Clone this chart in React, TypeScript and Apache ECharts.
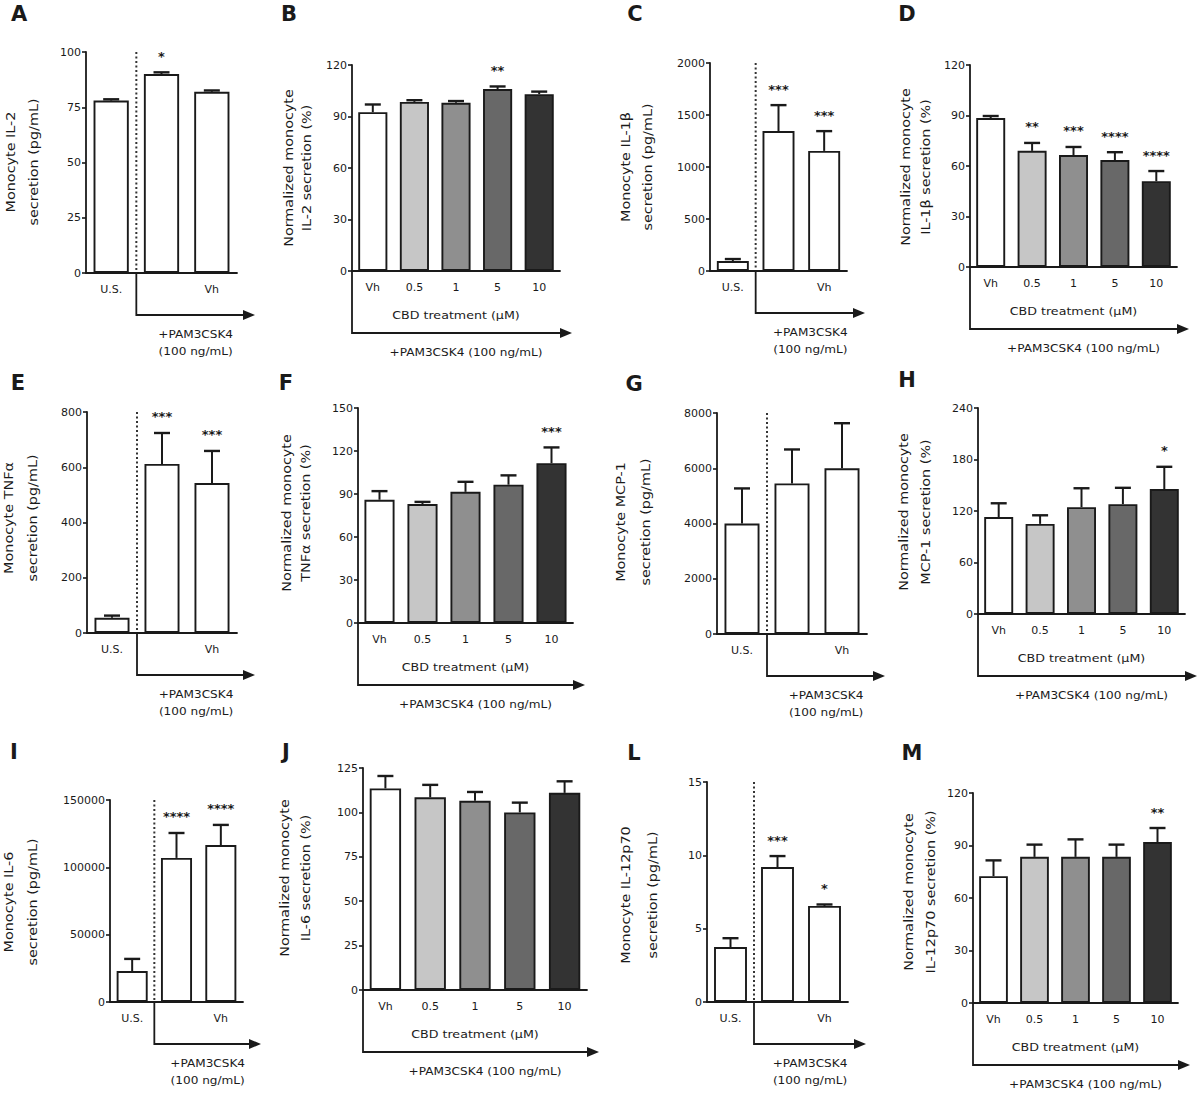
import React, { useEffect, useRef } from "react";
import * as echarts from "echarts";

// ---------- categories ----------
const usCategories = ["U.S.", "", "Vh"];
const cbdCategories = ["Vh", "0.5", "1", "5", "10"];

// ---------- series values (mean, SEM, significance) ----------
const il2Values = [78, 90, 82];
const il2Errors = [0.6, 0.8, 0.6];
const il2Stars = ["", "*", ""];

const il2NormValues = [92.5, 98.5, 98, 106, 103];
const il2NormErrors = [4.5, 1, 1, 1.5, 1.5];
const il2NormStars = ["", "", "", "**", ""];

const il1bValues = [95, 1345, 1155];
const il1bErrors = [20, 250, 190];
const il1bStars = ["", "***", "***"];

const il1bNormValues = [88.5, 69, 66.5, 63.5, 51];
const il1bNormErrors = [1.2, 4.7, 4.8, 4.7, 6];
const il1bNormStars = ["", "**", "***", "****", "****"];

const tnfValues = [55, 612, 543];
const tnfErrors = [8, 112, 116];
const tnfStars = ["", "***", "***"];

const tnfNormValues = [86, 83, 91.5, 96.5, 111.5];
const tnfNormErrors = [6, 1.5, 7, 6.5, 11];
const tnfNormStars = ["", "", "", "", "***"];

const mcpValues = [4000, 5450, 6000];
const mcpErrors = [1270, 1230, 1630];
const mcpStars = ["", "", ""];

const mcpNormValues = [113, 105, 124.5, 128, 145.5];
const mcpNormErrors = [16, 10, 22, 19, 26];
const mcpNormStars = ["", "", "", "", "*"];

const il6Values = [23000, 107000, 116500];
const il6Errors = [9000, 18500, 15000];
const il6Stars = ["", "****", "****"];

const il6NormValues = [113.5, 108.5, 106.5, 100, 111];
const il6NormErrors = [7, 7, 5, 5.5, 6.5];
const il6NormStars = ["", "", "", "", ""];

const il12Values = [3.75, 9.2, 6.55];
const il12Errors = [0.6, 0.75, 0.1];
const il12Stars = ["", "***", "*"];

const il12NormValues = [72.5, 83.5, 83.5, 83.5, 92];
const il12NormErrors = [9, 7, 10, 7, 8];
const il12NormStars = ["", "", "", "", "**"];

// ---------- y-axis tick ranges (max, step) ----------
const il2Ticks = [100, 25];
const il2NormTicks = [120, 30];
const il1bTicks = [2000, 500];
const il1bNormTicks = [120, 30];
const tnfTicks = [800, 200];
const tnfNormTicks = [150, 30];
const mcpTicks = [8000, 2000];
const mcpNormTicks = [240, 60];
const il6Ticks = [150000, 50000];
const il6NormTicks = [125, 25];
const il12Ticks = [15, 5];
const il12NormTicks = [120, 30];

// ---------- styles ----------
const usColors = ["#ffffff", "#ffffff", "#ffffff"];
const cbdColors = ["#ffffff", "#c6c6c6", "#8f8f8f", "#686868", "#333333"];
const FONT = "DejaVu Sans";
const INK = "#1a1a1a";

type Panel = {
  letter: string;
  letterPos: [number, number];
  kind: "us" | "cbd";
  box: [number, number, number, number]; // left, top, width, height
  ticks: number[];
  values: number[];
  errors: number[];
  stars: string[];
  title: [string, string];
  titlePos: [number, number, number];
};

const panels: Panel[] = [
  { letter: "A", letterPos: [19, 14], kind: "us", box: [86, 52, 151, 221], ticks: il2Ticks, values: il2Values, errors: il2Errors, stars: il2Stars, title: ["Monocyte IL-2", "secretion (pg/mL)"], titlePos: [10, 33, 162] },
  { letter: "B", letterPos: [289, 14], kind: "cbd", box: [352, 65, 208, 206], ticks: il2NormTicks, values: il2NormValues, errors: il2NormErrors, stars: il2NormStars, title: ["Normalized monocyte", "IL-2 secretion (%)"], titlePos: [288, 306, 168] },
  { letter: "C", letterPos: [635, 14], kind: "us", box: [710, 63, 137, 208], ticks: il1bTicks, values: il1bValues, errors: il1bErrors, stars: il1bStars, title: ["Monocyte IL-1β", "secretion (pg/mL)"], titlePos: [625, 647, 167] },
  { letter: "D", letterPos: [907, 14], kind: "cbd", box: [970, 65, 207, 202], ticks: il1bNormTicks, values: il1bNormValues, errors: il1bNormErrors, stars: il1bNormStars, title: ["Normalized monocyte", "IL-1β secretion (%)"], titlePos: [905, 925, 167] },
  { letter: "E", letterPos: [18, 383], kind: "us", box: [87, 412, 150, 221], ticks: tnfTicks, values: tnfValues, errors: tnfErrors, stars: tnfStars, title: ["Monocyte TNFα", "secretion (pg/mL)"], titlePos: [8, 32, 518] },
  { letter: "F", letterPos: [286, 383], kind: "cbd", box: [358, 408, 215, 215], ticks: tnfNormTicks, values: tnfNormValues, errors: tnfNormErrors, stars: tnfNormStars, title: ["Normalized monocyte", "TNFα secretion (%)"], titlePos: [286, 305, 513] },
  { letter: "G", letterPos: [634, 384], kind: "us", box: [717, 413, 150, 221], ticks: mcpTicks, values: mcpValues, errors: mcpErrors, stars: mcpStars, title: ["Monocyte MCP-1", "secretion (pg/mL)"], titlePos: [620, 645, 522] },
  { letter: "H", letterPos: [907, 380], kind: "cbd", box: [978, 408, 207, 206], ticks: mcpNormTicks, values: mcpNormValues, errors: mcpNormErrors, stars: mcpNormStars, title: ["Normalized monocyte", "MCP-1 secretion (%)"], titlePos: [903, 925, 512] },
  { letter: "I", letterPos: [14, 752], kind: "us", box: [110, 800, 133, 202], ticks: il6Ticks, values: il6Values, errors: il6Errors, stars: il6Stars, title: ["Monocyte IL-6", "secretion (pg/mL)"], titlePos: [8, 32, 902] },
  { letter: "J", letterPos: [286, 752], kind: "cbd", box: [363, 768, 224, 222], ticks: il6NormTicks, values: il6NormValues, errors: il6NormErrors, stars: il6NormStars, title: ["Normalized monocyte", "IL-6 secretion (%)"], titlePos: [284, 305, 878] },
  { letter: "L", letterPos: [634, 753], kind: "us", box: [707, 782, 141, 220], ticks: il12Ticks, values: il12Values, errors: il12Errors, stars: il12Stars, title: ["Monocyte IL-12p70", "secretion (pg/mL)"], titlePos: [625, 652, 895] },
  { letter: "M", letterPos: [912, 753], kind: "cbd", box: [973, 793, 205, 210], ticks: il12NormTicks, values: il12NormValues, errors: il12NormErrors, stars: il12NormStars, title: ["Normalized monocyte", "IL-12p70 secretion (%)"], titlePos: [908, 930, 892] },
];

function txt(text: string, x: number, y: number, size: number, opts: any = {}) {
  return {
    type: "text",
    x,
    y,
    rotation: opts.rotation || 0,
    scaleX: opts.scaleX || 1,
    silent: true,
    style: {
      text,
      x: 0,
      y: 0,
      fill: INK,
      font: `${opts.weight || "normal"} ${size}px "${FONT}"`,
      align: opts.align || "center",
      verticalAlign: opts.vAlign || "middle",
      textAlign: opts.align || "center",
      textVerticalAlign: opts.vAlign || "middle",
    },
  };
}

function buildOption() {
  const grid: any[] = [];
  const xAxis: any[] = [];
  const yAxis: any[] = [];
  const series: any[] = [];
  const graphic: any[] = [];

  panels.forEach((p, i) => {
    const [left, top, width, height] = p.box;
    const bottom = top + height;
    const us = p.kind === "us";
    const cats = us ? usCategories : cbdCategories;
    const colors = us ? usColors : cbdColors;

    grid.push({ left, top, width, height });
    xAxis.push({
      type: "category",
      gridIndex: i,
      data: cats,
      axisLine: { lineStyle: { color: INK, width: 1.8 } },
      axisTick: { alignWithLabel: true, length: 4, lineStyle: { color: INK, width: 1.6 } },
      axisLabel: { color: INK, fontSize: 11, fontFamily: FONT, margin: 11, interval: 0 },
      splitLine: { show: false },
    });
    yAxis.push({
      type: "value",
      gridIndex: i,
      min: 0,
      max: p.ticks[0],
      interval: p.ticks[1],
      axisLine: { show: true, lineStyle: { color: INK, width: 1.8 } },
      axisTick: { show: true, length: 4, lineStyle: { color: INK, width: 1.6 } },
      axisLabel: { color: INK, fontSize: 11, fontFamily: FONT, margin: 5, formatter: (v: number) => String(v) },
      splitLine: { show: false },
    });
    series.push({
      type: "bar",
      xAxisIndex: i,
      yAxisIndex: i,
      barWidth: "70%",
      data: p.values.map((v, k) => ({ value: v, itemStyle: { color: colors[k] } })),
      itemStyle: { borderColor: INK, borderWidth: 1.9 },
      z: 2,
    });
    const stars = p.stars;
    series.push({
      type: "custom",
      xAxisIndex: i,
      yAxisIndex: i,
      z: 3,
      data: p.values.map((v, k) => [k, v, p.errors[k]]),
      encode: { x: 0, y: 1 },
      renderItem: (params: any, api: any) => {
        const k = api.value(0);
        const v = api.value(1);
        const e = api.value(2);
        const a = api.coord([k, v]);
        const b = api.coord([k, v + e]);
        const cap = 8;
        const children: any[] = [
          { type: "line", shape: { x1: a[0], y1: a[1], x2: b[0], y2: b[1] }, style: { stroke: INK, lineWidth: 2 } },
          { type: "line", shape: { x1: b[0] - cap, y1: b[1], x2: b[0] + cap, y2: b[1] }, style: { stroke: INK, lineWidth: 2.4 } },
        ];
        const s = stars[params.dataIndex];
        if (s) {
          children.push({
            type: "text",
            style: { text: s, x: b[0], y: b[1] - 16, fill: INK, font: `bold 13px "${FONT}"`, align: "center", verticalAlign: "middle" },
          });
        }
        return { type: "group", children };
      },
    });

    // panel letter
    graphic.push(txt(p.letter, p.letterPos[0], p.letterPos[1], 21, { weight: "bold" }));
    // y-axis title (two lines, rotated)
    graphic.push(txt(p.title[0], p.titlePos[0], p.titlePos[2], 12.5, { rotation: Math.PI / 2, scaleX: 1.15 }));
    graphic.push(txt(p.title[1], p.titlePos[1], p.titlePos[2], 12.5, { rotation: Math.PI / 2, scaleX: 1.15 }));

    const vx = us ? left + width / 3 : left;
    const ay = bottom + (us ? 42 : 62);
    const ex = left + width + (us ? 18 : 12);
    if (us) {
      graphic.push({
        type: "line",
        silent: true,
        shape: { x1: vx, y1: top, x2: vx, y2: bottom },
        style: { stroke: "#333", lineWidth: 2, lineDash: [2, 2.5] },
      });
    }
    graphic.push({
      type: "polyline",
      silent: true,
      shape: { points: [[vx, bottom], [vx, ay], [ex - 8, ay]] },
      style: { stroke: INK, lineWidth: 1.8, fill: "none" },
    });
    graphic.push({
      type: "polygon",
      silent: true,
      shape: { points: [[ex, ay], [ex - 12, ay - 5], [ex - 12, ay + 5]] },
      style: { fill: INK },
    });
    if (us) {
      const cx = (vx + ex) / 2;
      graphic.push(txt("+PAM3CSK4", cx, ay + 19, 11, { scaleX: 1.1 }));
      graphic.push(txt("(100 ng/mL)", cx, ay + 36, 11, { scaleX: 1.1 }));
    } else {
      graphic.push(txt("CBD treatment (μM)", left + width / 2, bottom + 44, 11, { scaleX: 1.15 }));
      graphic.push(txt("+PAM3CSK4 (100 ng/mL)", (vx + ex) / 2 + 4, ay + 19, 11, { scaleX: 1.1 }));
    }
  });

  return {
    animation: false,
    backgroundColor: "#ffffff",
    grid,
    xAxis,
    yAxis,
    series,
    graphic: { elements: graphic },
  };
}

export default function App() {
  const ref = useRef<HTMLDivElement>(null);
  useEffect(() => {
    if (!ref.current) return;
    const chart = echarts.init(ref.current, null, { renderer: "svg" });
    chart.setOption(buildOption() as any);
    return () => chart.dispose();
  }, []);
  return (
    <div
      ref={ref}
      style={{ position: "absolute", left: 0, top: 0, width: 1200, height: 1100, background: "#fff" }}
    />
  );
}
